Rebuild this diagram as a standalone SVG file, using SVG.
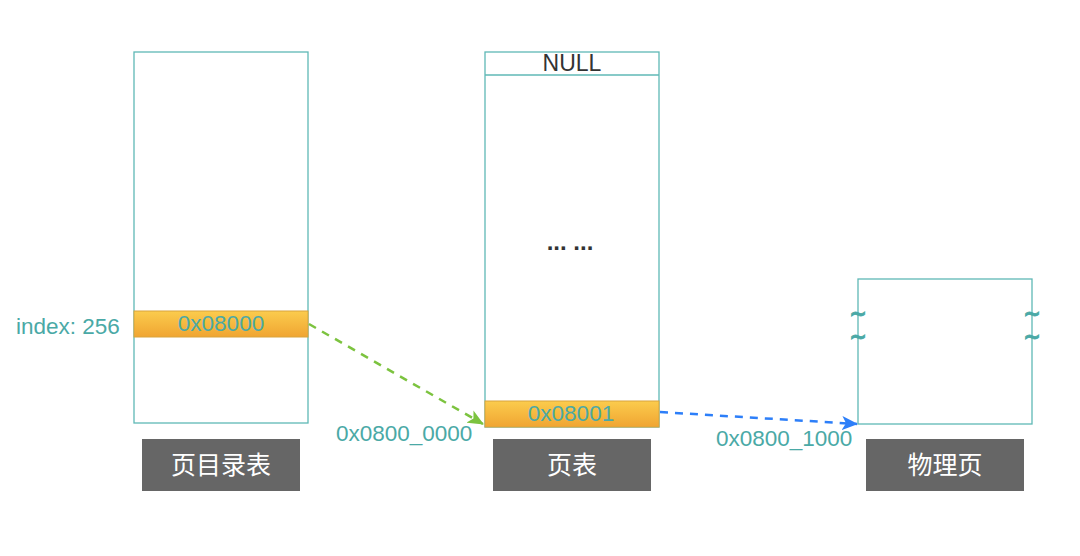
<svg xmlns="http://www.w3.org/2000/svg" width="1080" height="556" viewBox="0 0 1080 556">
<style>
.tbl{fill:#fff;stroke:#5fb8b6;stroke-width:1.3}
.hl{fill:url(#og);stroke:#d9a43c;stroke-width:1}
.tt{font-family:"Liberation Sans",Arial,sans-serif;fill:#4aa9a6;font-size:22.5px}
.lab{fill:#666}
.lt{font-family:"Noto Sans CJK SC","Noto Sans",sans-serif;fill:#fff;font-size:25px;text-anchor:middle}
.sq{font-family:"DejaVu Sans",sans-serif;fill:#4aa9a6;stroke:#4aa9a6;stroke-width:0.8;font-size:21px;text-anchor:middle;font-weight:bold}
</style>
<defs>
<linearGradient id="og" x1="0" y1="0" x2="0" y2="1">
<stop offset="0" stop-color="#fbcc4d"/>
<stop offset="1" stop-color="#f0a532"/>
</linearGradient>
<marker id="ag" markerWidth="16" markerHeight="14" refX="15" refY="7" orient="auto" markerUnits="userSpaceOnUse"><path d="M0,0 L16,7 L0,14 L4,7 Z" fill="#7cc33f"/></marker>
<marker id="ab" markerWidth="16" markerHeight="14" refX="15" refY="7" orient="auto" markerUnits="userSpaceOnUse"><path d="M0,0 L16,7 L0,14 L4,7 Z" fill="#2d7ff9"/></marker>
</defs>
<rect width="1080" height="556" fill="#fff"/>
<g id="pgd">
<rect class="tbl" x="134" y="52" width="174" height="371"/>
<rect class="hl" x="134" y="311" width="174" height="26"/>
<text class="tt" x="221" y="331" text-anchor="middle">0x08000</text>
<text class="tt" x="16" y="334">index: 256</text>
</g>
<g id="pt">
<rect class="tbl" x="485" y="52" width="174" height="375"/>
<line x1="485" y1="75" x2="659" y2="75" stroke="#5fb8b6" stroke-width="1.3"/>
<text x="572" y="71" text-anchor="middle" font-family="Liberation Sans,Arial,sans-serif" font-size="23" fill="#333">NULL</text>
<text x="570" y="250" text-anchor="middle" font-family="Liberation Sans,Arial,sans-serif" font-size="24" font-weight="bold" fill="#333">... ...</text>
<rect class="hl" x="485" y="401" width="174" height="26"/>
<text class="tt" x="571" y="421" text-anchor="middle">0x08001</text>
</g>
<g id="page">
<rect class="tbl" x="858" y="279" width="174" height="145"/>
<text class="sq"><tspan x="858" y="321">~</tspan><tspan x="858" y="344">~</tspan></text>
<text class="sq"><tspan x="1032" y="321">~</tspan><tspan x="1032" y="344">~</tspan></text>
</g>
<g id="labels">
<g id="l1"><rect class="lab" x="142" y="439" width="158" height="52"/><text class="lt" x="221" y="474">页目录表</text></g>
<g id="l2"><rect class="lab" x="493" y="439" width="158" height="52"/><text class="lt" x="572" y="474">页表</text></g>
<g id="l3"><rect class="lab" x="866" y="439" width="158" height="52"/><text class="lt" x="945" y="474">物理页</text></g>
</g>
<g id="connectors">
<line x1="309" y1="324" x2="483" y2="424" stroke="#7cc33f" stroke-width="2.5" stroke-dasharray="8,7" marker-end="url(#ag)"/>
<line x1="660" y1="412" x2="857" y2="424" stroke="#2d7ff9" stroke-width="2.5" stroke-dasharray="8,7" marker-end="url(#ab)"/>
<text class="tt" x="336" y="441">0x0800_0000</text>
<text class="tt" x="716" y="446">0x0800_1000</text>
</g>
</svg>
